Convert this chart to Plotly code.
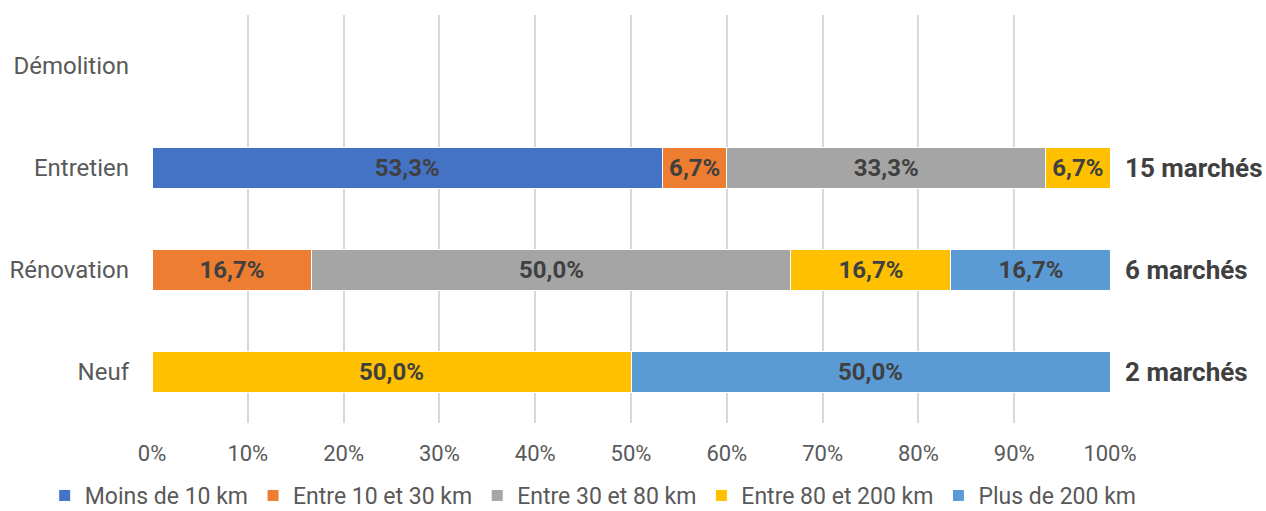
import plotly.graph_objects as go

categories = ["Neuf", "Rénovation", "Entretien", "Démolition"]
series_names = ["Moins de 10 km", "Entre 10 et 30 km", "Entre 30 et 80 km", "Entre 80 et 200 km", "Plus de 200 km"]
colors = ["#4472C4", "#ED7D31", "#A5A5A5", "#FFC000", "#5B9BD5"]

# shares per category (Neuf, Rénovation, Entretien, Démolition)
moins_10 = [None, None, 0.533, None]
entre_10_30 = [None, 0.167, 0.067, None]
entre_30_80 = [None, 0.500, 0.333, None]
entre_80_200 = [0.500, 0.167, 0.067, None]
plus_200 = [0.500, 0.167, None, None]
series_values = [moins_10, entre_10_30, entre_30_80, entre_80_200, plus_200]

marches = ["2 marchés", "6 marchés", "15 marchés", ""]

font = "Roboto, Arial, sans-serif"

fig = go.Figure()
for name, vals, col in zip(series_names, series_values, colors):
    fig.add_trace(go.Bar(
        y=categories, x=vals, name=name, orientation="h",
        marker=dict(color=col, line=dict(color="white", width=1)),
        texttemplate="%{x:.1%}", textposition="inside", insidetextanchor="middle",
        textfont=dict(family=font, size=24, color="#404040", weight="bold"),
        constraintext="none", width=0.4,
    ))

# number of contracts, written right of each bar
for cat, txt in zip(categories, marches):
    if txt:
        fig.add_annotation(x=1.0, xref="paper", xanchor="left", xshift=13, y=cat, yref="y",
                           text="<b>" + txt + "</b>", showarrow=False,
                           font=dict(family=font, size=26, color="#404040"))

fig.update_layout(
    barmode="stack",
    width=1266, height=511,
    margin=dict(l=152, r=156, t=15, b=88, autoexpand=False),
    plot_bgcolor="white", paper_bgcolor="white",
    separators=", ",
    font=dict(family=font, color="#595959"),
    showlegend=True,
    legend=dict(orientation="h", x=-0.112, xanchor="left", y=-0.125, yanchor="top",
                font=dict(family=font, size=23, color="#595959"), traceorder="normal",
                itemwidth=30),
    xaxis=dict(range=[0, 1], tickformat=".0%", dtick=0.1, showgrid=True, gridcolor="#D9D9D9",
               gridwidth=2, zeroline=False, tickfont=dict(size=22, color="#595959"), ticks="",
               ticklabelstandoff=15),
    yaxis=dict(categoryorder="array", categoryarray=categories, showgrid=False,
               tickfont=dict(size=24, color="#595959"), ticks="", ticklabelstandoff=22),
)

fig.write_html("out.html", config={"displayModeBar": False},
               post_script="document.body.style.margin='0';")
